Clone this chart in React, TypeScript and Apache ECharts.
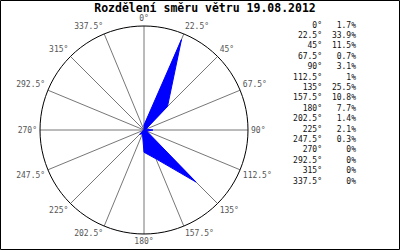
import React, { useEffect, useRef } from "react";
import * as echarts from "echarts";

const TITLE = "Rozdělení směru větru 19.08.2012";
const directions = [0, 22.5, 45, 67.5, 90, 112.5, 135, 157.5, 180, 202.5, 225, 247.5, 270, 292.5, 315, 337.5];
const percents = [1.7, 33.9, 11.5, 0.7, 3.1, 1, 25.5, 10.8, 7.7, 1.4, 2.1, 0.3, 0, 0, 0, 0];

const MONO = "'DejaVu Sans Mono', 'Liberation Mono', monospace";

export default function App() {
  const ref = useRef<HTMLDivElement>(null);
  useEffect(() => {
    if (!ref.current) return;
    const chart = echarts.init(ref.current, undefined, { renderer: "svg" });
    const points = directions.map((d, i) => [percents[i], d]);
    points.push([percents[0], 360]);

    const legendTexts: any[] = [];
    directions.forEach((d, i) => {
      const y = 25 + i * 10.4;
      legendTexts.push({
        type: "text",
        x: 322,
        y,
        style: { text: d + "°", font: `8px ${MONO}`, fill: "#111", align: "right", verticalAlign: "middle" },
      });
      legendTexts.push({
        type: "text",
        x: 356,
        y,
        style: { text: percents[i] + "%", font: `8px ${MONO}`, fill: "#111", align: "right", verticalAlign: "middle" },
      });
    });

    chart.setOption({
      animation: false,
      backgroundColor: "#fff",
      title: {
        text: TITLE,
        left: 200,
        textAlign: "center",
        top: 0,
        padding: [2, 5, 0, 5],
        textStyle: { fontFamily: MONO, fontSize: 11.5, lineHeight: 12, fontWeight: "bold", color: "#000" },
      },
      polar: { center: [144, 130], radius: 104 },
      angleAxis: {
        type: "value",
        min: 0,
        max: 360,
        interval: 22.5,
        startAngle: 90,
        clockwise: true,
        axisLine: { show: true, lineStyle: { color: "#000", width: 1 } },
        axisTick: { show: false },
        splitLine: { show: true, lineStyle: { color: "#777", width: 1 } },
        axisLabel: {
          margin: 3,
          color: "#555",
          fontFamily: MONO,
          fontSize: 8,
          lineHeight: 9,
          formatter: (v: number) => (v >= 360 ? "" : v + "°"),
        },
      },
      radiusAxis: {
        type: "value",
        min: 0,
        max: 36,
        show: false,
        splitLine: { show: false },
      },
      series: [
        {
          type: "line",
          coordinateSystem: "polar",
          data: points,
          symbol: "none",
          lineStyle: { color: "#0000ff", width: 1 },
          areaStyle: { color: "#0000ff", opacity: 1 },
          z: 5,
        },
      ],
      graphic: [
        {
          type: "rect",
          shape: { x: 0.5, y: 0.5, width: 399, height: 249 },
          style: { fill: "none", stroke: "#000", lineWidth: 1 },
          silent: true,
        },
        ...legendTexts,
      ],
    });
    return () => chart.dispose();
  }, []);
  return (
    <div
      ref={ref}
      style={{ position: "fixed", left: 0, top: 0, width: 400, height: 250 }}
    />
  );
}
